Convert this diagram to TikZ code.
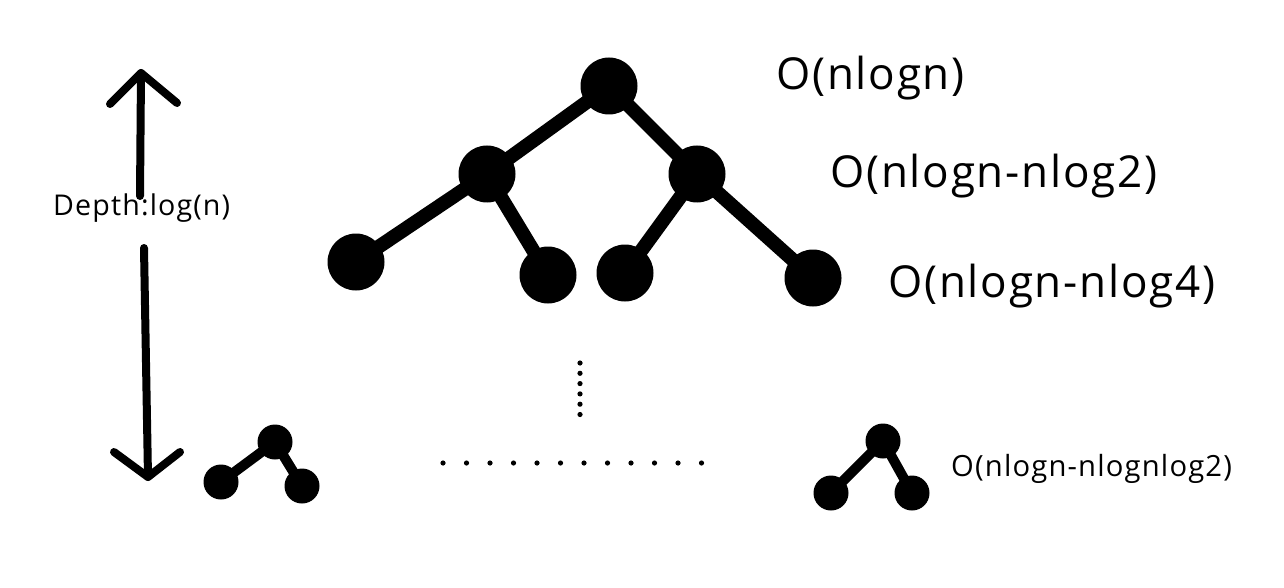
\documentclass[tikz,border=0pt]{standalone}
\usepackage{fontspec}
\setmainfont[LetterSpace=4]{Open Sans}
\pgfdeclarelayer{bg}
\pgfsetlayers{bg,main}
\tikzset{
  bignode/.style={circle,fill=black,inner sep=0pt,minimum size=57pt},
  smallnode/.style={circle,fill=black,inner sep=0pt,minimum size=35pt},
  bigedge/.style={line width=14pt},
  smalledge/.style={line width=10pt},
  biglabel/.style={anchor=base west,inner sep=0pt,font=\fontsize{44}{50}\selectfont},
  smalllabel/.style={anchor=base west,inner sep=0pt,font=\fontsize{28.6}{34}\selectfont},
  arrowline/.style={line width=8pt,line cap=round,line join=round},
  dotmark/.style={fill=black}
}
\begin{document}
\begin{tikzpicture}[x=1pt,y=-1pt]
\useasboundingbox (0,0) rectangle (1284,588);
% big tree
\node[bignode] (root) at (609,86) {};
\node[bignode] (L) at (487,174) {};
\node[bignode] (R) at (697,174) {};
\node[bignode] (LL) at (356,262) {};
\node[bignode] (LR) at (548,275) {};
\node[bignode] (RL) at (625,273) {};
\node[bignode] (RR) at (813,278) {};
% small trees
\node[smallnode] (sa) at (275,442) {};
\node[smallnode] (sal) at (221,482) {};
\node[smallnode] (sar) at (302,486) {};
\node[smallnode] (sb) at (883,441) {};
\node[smallnode] (sbl) at (831,493) {};
\node[smallnode] (sbr) at (912,493) {};
\begin{pgfonlayer}{bg}
\draw[bigedge] (root.center) -- (L.center);
\draw[bigedge] (root.center) -- (R.center);
\draw[bigedge] (L.center) -- (LL.center);
\draw[bigedge] (L.center) -- (LR.center);
\draw[bigedge] (R.center) -- (RL.center);
\draw[bigedge] (R.center) -- (RR.center);
\draw[smalledge] (sa.center) -- (sal.center);
\draw[smalledge] (sa.center) -- (sar.center);
\draw[smalledge] (sb.center) -- (sbl.center);
\draw[smalledge] (sb.center) -- (sbr.center);
\end{pgfonlayer}
% labels
\node[biglabel] (t1) at (776,90) {O(nlogn)};
\node[biglabel] (t2) at (830,187) {O(nlogn-nlog2)};
\node[biglabel] (t3) at (888,297) {O(nlogn-nlog4)};
\node[smalllabel,font=\fontsize{29.2}{34}\selectfont] (t4) at (951,476) {O(nlogn-nlognlog2)};
\node[smalllabel] (depth) at (53,215) {Depth:log(n)};
% depth arrows
\coordinate (upTip) at (141,73);
\coordinate (upBase) at (140,196);
\coordinate (dnTip) at (148,477);
\coordinate (dnBase) at (144,248);
\draw[arrowline] (upBase) -- (upTip);
\draw[arrowline] (upTip) ++(-31,31) -- (upTip) -- ++(36,30);
\draw[arrowline] (dnBase) -- (dnTip);
\draw[arrowline] (dnTip) ++(-34,-25) -- (dnTip) -- ++(32,-25);
% dots
\foreach \i in {0,...,5} \fill[dotmark] (580,{363+10.3*\i}) circle (2.6);
\foreach \i in {0,...,11} \fill[dotmark] ({443+23.5*\i},463) circle (2.6);
\end{tikzpicture}
\end{document}
